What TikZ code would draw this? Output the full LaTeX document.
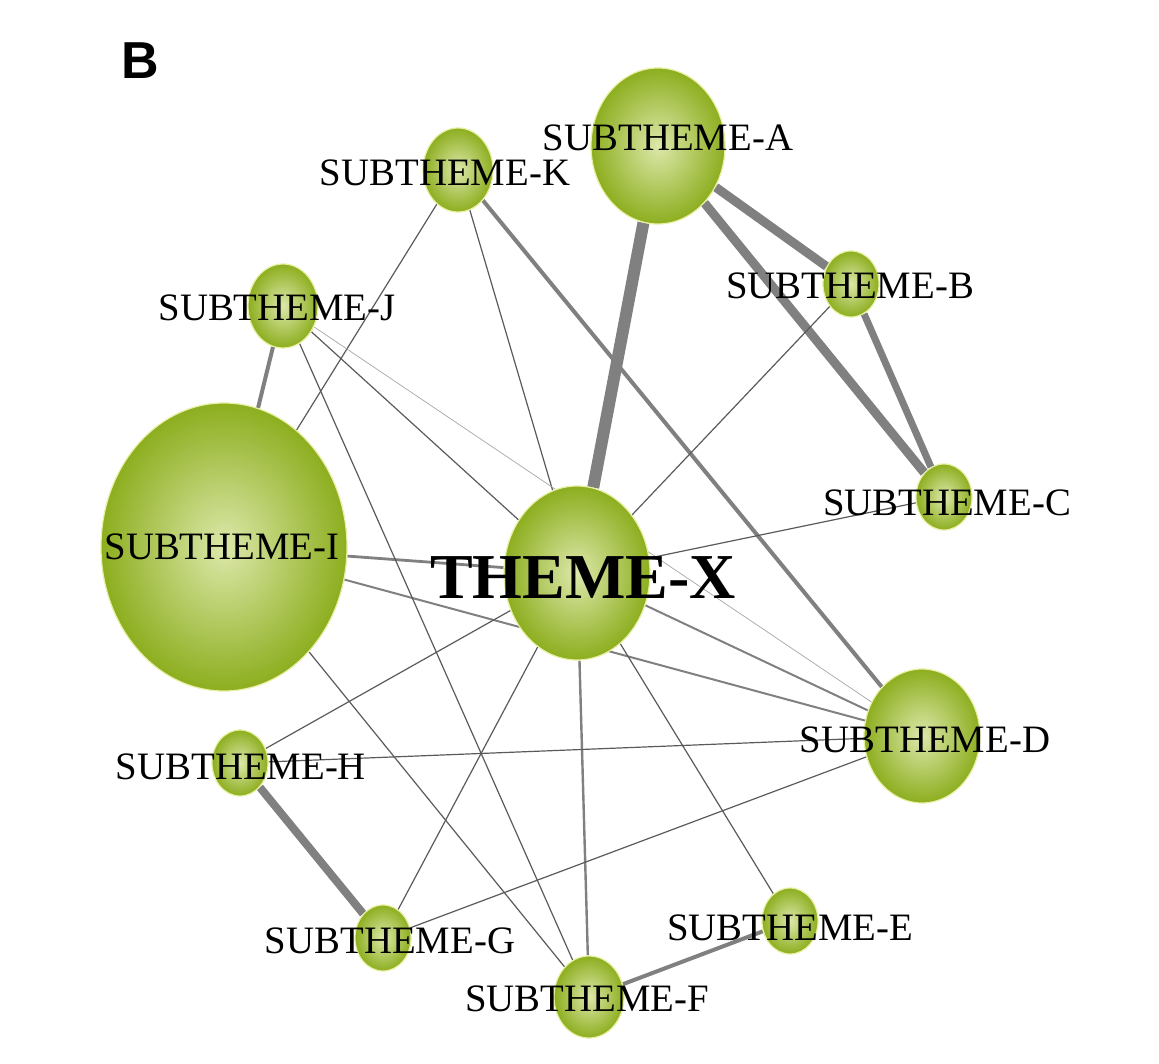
\documentclass[tikz,border=0pt]{standalone}
\usepackage{fontspec}
\setmainfont{Liberation Serif}
\newfontfamily\panelfont{Liberation Sans}
\usetikzlibrary{shapes.geometric,backgrounds}
\definecolor{Leaf}{HTML}{8DAE1F}
\definecolor{Pale}{HTML}{DCE8AA}
\definecolor{Rim}{HTML}{E6EFA2}
\definecolor{Wire}{HTML}{808080}
\definecolor{Thin}{HTML}{5A5A5A}

\begin{document}
\begin{tikzpicture}[x=.5pt,y=-.5pt,
    ball/.style={ellipse,inner sep=0pt,shading=radial,inner color=Pale,outer color=Leaf,draw=Rim,line width=.6pt},
    lab/.style={font=\fontsize{19.4}{22}\selectfont},
    wire/.style={draw=Wire,line width=#1},
    fine/.style={draw=Thin,line width=.6pt}]
    \useasboundingbox (0,0) rectangle (1159,1063);
    \node[font=\panelfont\bfseries\fontsize{26}{30}\selectfont] (panel) at (140,61) {B};
    \node[ball,minimum width=67pt,minimum height=78pt] (A) at (658,146) {};
    \node[ball,minimum width=28pt,minimum height=33pt] (B) at (851,284) {};
    \node[ball,minimum width=28pt,minimum height=33pt] (C) at (944,497) {};
    \node[ball,minimum width=58pt,minimum height=67pt] (D) at (922,736) {};
    \node[ball,minimum width=28pt,minimum height=33pt] (E) at (790,921) {};
    \node[ball,minimum width=35pt,minimum height=41pt] (F) at (589,997) {};
    \node[ball,minimum width=28pt,minimum height=33pt] (G) at (383,938) {};
    \node[ball,minimum width=28pt,minimum height=33pt] (H) at (240,763) {};
    \node[ball,minimum width=123pt,minimum height=144pt] (I) at (224,547) {};
    \node[ball,minimum width=35pt,minimum height=42pt] (J) at (283,306) {};
    \node[ball,minimum width=35pt,minimum height=42pt] (K) at (458,170) {};
    \node[ball,minimum width=73pt,minimum height=87pt] (X) at (577,573) {};
    \begin{scope}[on background layer]
      \draw[wire=6pt] (A) -- (X);
      \draw[wire=4.5pt] (A) -- (B);
      \draw[wire=4.5pt] (A) -- (C);
      \draw[wire=3.5pt] (B) -- (C);
      \draw[wire=4pt] (H) -- (G);
      \draw[wire=2pt] (J) -- (I);
      \draw[wire=2pt] (K) -- (D);
      \draw[wire=2pt] (F) -- (E);
      \draw[wire=1.2pt] (F) -- (X);
      \draw[wire=1pt] (D) -- (X);
      \draw[wire=1.4pt] (I) -- (X);
      \draw[wire=1pt] (I) -- (D);
      \draw[fine] (B) -- (X);
      \draw[fine] (C) -- (X);
      \draw[fine] (K) -- (X);
      \draw[fine] (K) -- (I);
      \draw[fine] (J) -- (X);
      \draw[fine] (J) -- (F);
      \draw[fine] (I) -- (F);
      \draw[fine] (H) -- (X);
      \draw[fine] (H) -- (D);
      \draw[fine] (G) -- (X);
      \draw[fine] (G) -- (D);
      \draw[fine] (E) -- (X);
      \draw[draw=Wire!70,line width=.35pt] (J) -- (D);
    \end{scope}
    \node[lab] (tA) at (668,138) {SUBTHEME-A};
    \node[lab] (tB) at (850,286) {SUBTHEME-B};
    \node[lab] (tC) at (947,503) {SUBTHEME-C};
    \node[lab] (tD) at (925,740) {SUBTHEME-D};
    \node[lab] (tE) at (790,928) {SUBTHEME-E};
    \node[lab] (tF) at (587,999) {SUBTHEME-F};
    \node[lab] (tG) at (390,941) {SUBTHEME-G};
    \node[lab] (tH) at (241,767) {SUBTHEME-H};
    \node[lab] (tI) at (222,547) {SUBTHEME-I};
    \node[lab] (tJ) at (277,308) {SUBTHEME-J};
    \node[lab] (tK) at (445,173) {SUBTHEME-K};
    \node[font=\bfseries\fontsize{32}{36}\selectfont] (tX) at (583,578) {THEME-X};
  \end{tikzpicture}
\end{document}
